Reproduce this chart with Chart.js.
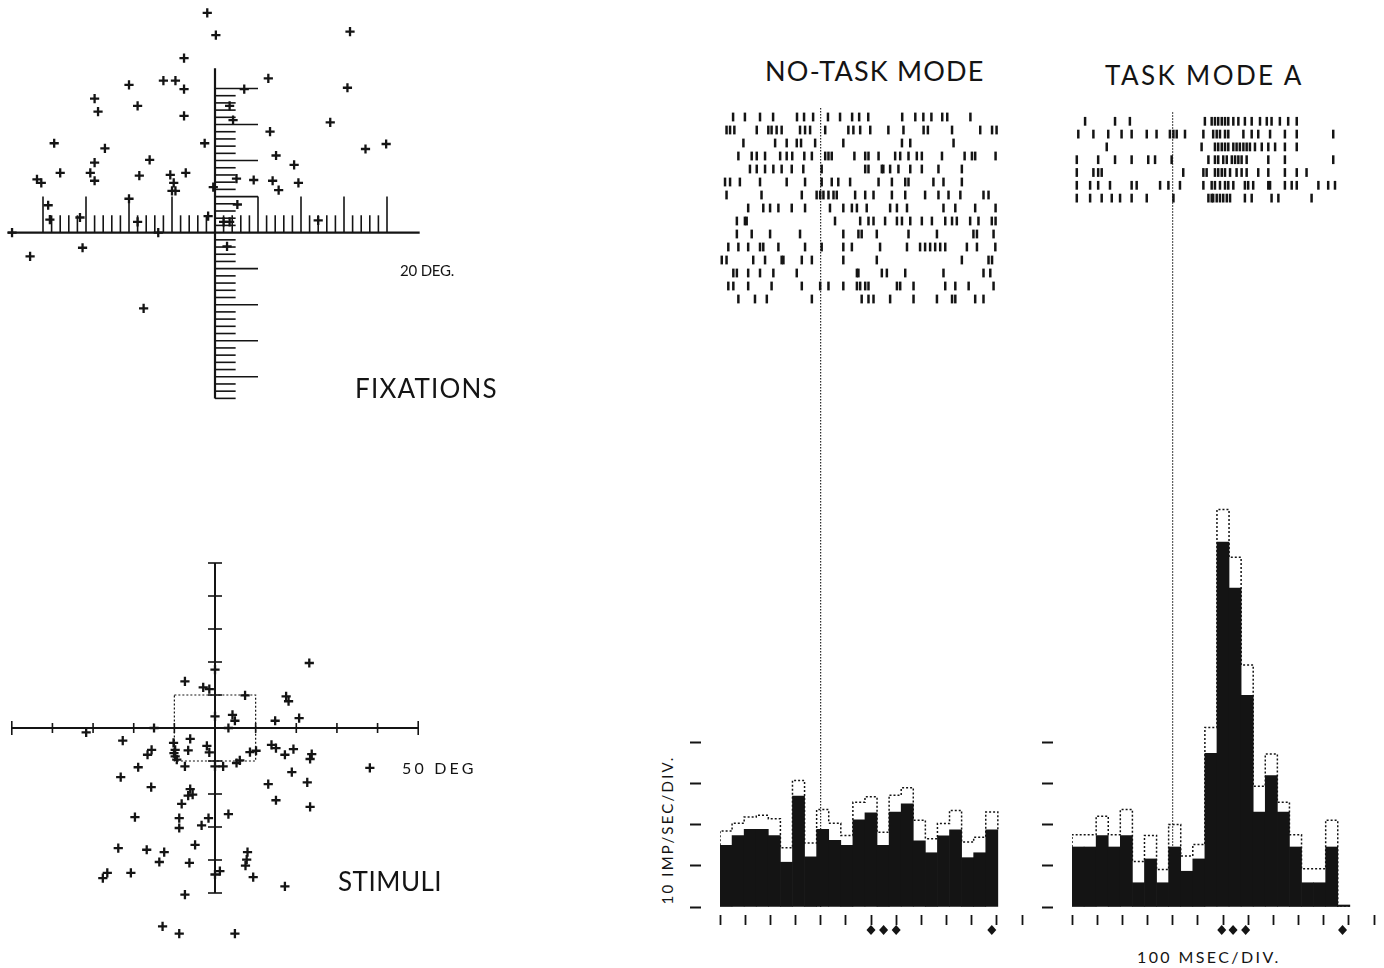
<!DOCTYPE html>
<html>
<head>
<meta charset="utf-8">
<title>Fixations, stimuli and task modes</title>
<script src="https://cdn.jsdelivr.net/npm/chart.js"></script>
<style>
    body {
        margin: 0;
        width: 1384px;
        height: 968px;
        position: relative;
        overflow: hidden;
        background: #fff;
        color: #141414;
        font-family: 'Lato', 'DejaVu Sans', sans-serif;
        font-weight: 400;
    }
    canvas { position: absolute; }
    .label {
        position: absolute;
        white-space: nowrap;
        line-height: 1;
    }
</style>
</head>
<body>
<canvas id="fixationChart" width="430" height="418" style="left:0;top:2px"></canvas>
<canvas id="stimulusChart" width="430" height="429" style="left:0;top:530px"></canvas>
<canvas id="noTaskChart" width="338" height="846" style="left:690px;top:101px"></canvas>
<canvas id="taskAChart" width="338" height="846" style="left:1042px;top:101px"></canvas>

<div class="label" style="left:765px;top:57px;font-size:27px;letter-spacing:1.2px">NO-TASK MODE</div>
<div class="label" style="left:1105px;top:62px;font-size:26px;letter-spacing:2.4px">TASK MODE A</div>
<div class="label" style="left:400px;top:263px;font-size:15px;letter-spacing:-0.2px">20 DEG.</div>
<div class="label" style="left:355px;top:375px;font-size:26px;letter-spacing:1.2px">FIXATIONS</div>
<div class="label" style="left:402px;top:760px;font-size:16px;letter-spacing:3.2px">50 DEG</div>
<div class="label" style="left:338px;top:868px;font-size:26px;letter-spacing:0.5px">STIMULI</div>
<div class="label" style="left:1137px;top:949px;font-size:16px;letter-spacing:2.4px">100 MSEC/DIV.</div>
<div class="label" style="left:667px;top:830px;font-size:15px;letter-spacing:2.2px;transform:translate(-50%,-50%) rotate(-90deg)">10 IMP/SEC/DIV.</div>

<script>
// Fixation positions, degrees (x right, y up)
const fixationX = [-0.9, 0.1, 15.7, -3.6, 6.2, -10.0, -6.0, -4.6, -3.6, 3.4, 15.4, -14.0, -13.6, -9.0, -3.6, 1.7,
    2.1, 13.4, 6.4, -18.7, -12.8, -1.2, 17.5, 19.9, 7.1, -7.6, -14.0, 9.2, -20.7, -20.2, -18.0, -14.5, -14.0, -8.8,
    -5.2, -3.4, -4.8, -4.6, -5.0, 2.5, 4.5, 6.7, 7.4, 9.7, -0.2, -19.4, -19.2, -15.7, -10.0, -9.0, -6.6, -0.8, 2.6,
    1.0, 1.7, 12.0, -23.6, -21.5, -15.4, 1.4, -8.3];
const fixationY = [30.5, 27.4, 27.9, 24.2, 21.4, 20.5, 21.1, 21.1, 19.9, 19.9, 20.1, 18.6, 16.8, 17.6, 16.2, 17.6,
    15.6, 15.3, 14.0, 12.4, 11.7, 12.4, 11.6, 12.3, 10.7, 10.1, 9.7, 9.4, 7.4, 6.9, 8.3, 8.3, 7.2, 7.9,
    8.0, 8.3, 6.9, 5.8, 5.8, 7.5, 7.3, 7.2, 5.9, 6.9, 6.3, 3.8, 1.8, 2.1, 4.7, 1.5, 0, 2.3, 3.9,
    1.5, 1.5, 1.7, 0, -3.3, -2.1, -1.9, -10.5];

// Stimulus positions, degrees
const stimulusX = [23.2, -7.4, -2.9, -1.4, 0, 7.4, 17.5, 18.1, 4.3, 4.9, 0, 14.8, 20.7, -31.7, -22.7, -6.1, -15.6,
    -16.6, -10.2, -9.8, -9.8, -6.6, -2.0, -1.4, -7.4, 0, 2.0, 5.3, 6.1, 8.6, 10.1, 13.9, 15.0, 17.2, 19.3, 23.8, 23.4,
    38.1, -18.9, -23.2, -15.7, 18.9, 13.1, 22.7, -6.1, -6.6, -5.5, -8.2, 15.0, 23.4, -19.7, -8.8, -8.8, -3.3, -1.6,
    3.3, -23.8, -16.8, -12.5, -13.7, -6.3, -4.9, 8.0, 7.8, 7.5, 9.4, 1.2, 0, -26.5, -27.6, -20.7, 17.2, -7.4, -12.9,
    -8.8, 4.9, -9.4, -10.1, -15, 3.3];
const stimulusY = [19.7, 14.1, 12.3, 11.8, 17.7, 9.9, 9.6, 8.1, 4.0, 2.2, 3.5, 2.2, 3.0, -1.3, -3.8, -3.3, -6.6,
    -8.1, -4.5, -6.6, -8.6, -6.8, -5.4, -7.4, -11.6, -11.6, -11.6, -10.6, -9.8, -7.3, -6.9, -5.1, -6.1, -8.1, -6.4,
    -7.9, -9.4, -12.1, -11.9, -14.9, -17.9, -13.4, -17.0, -16.5, -18.5, -20.5, -20.2, -23.0, -21.9, -23.9, -27.0,
    -27.3, -30.3, -29.5, -27.3, -26.1, -36.4, -36.9, -37.6, -40.6, -40.9, -35.4, -37.6, -39.9, -41.7, -45.2, -43.4,
    -44.4, -43.9, -45.5, -43.9, -48.0, -50.5, -60.1, -62.3, -62.3, -9.6, -7.6, 0, 0];

// Histogram bins: 48 ms wide, starting 400 ms before the event
const BIN_START_MS = -400;
const BIN_MS = 48;

// imp/sec per bin (solid = mean, dotted = upper outline)
const noTaskRate = [15.0, 17.4, 18.9, 18.9, 17.4, 10.9, 27.0, 12.2, 18.9, 16.2, 15.0, 21.2, 22.9, 15.0, 23.1,
    25.1, 16.1, 13.2, 17.3, 18.8, 12.0, 13.2, 18.8];
const noTaskUpper = [18.5, 20.4, 21.9, 22.3, 21.5, 14.4, 30.8, 15.6, 23.7, 20.4, 17.4, 25.5, 26.8, 18.2, 27.2,
    29.0, 21.1, 16.6, 20.3, 23.5, 15.8, 17.0, 23.1];
const taskARate = [14.6, 14.6, 17.4, 14.6, 17.4, 5.9, 11.7, 5.9, 14.6, 8.7, 11.7, 37.4, 88.8, 77.6, 51.5, 23.1,
    32.0, 23.1, 14.6, 5.9, 5.9, 14.6, 0];
const taskAUpper = [17.6, 17.6, 22.1, 17.6, 23.7, 11.1, 17.4, 9.1, 20.1, 12.4, 15.2, 43.7, 96.7, 85.1, 58.9, 29.4,
    37.2, 25.5, 17.6, 9.3, 9.3, 21.1, 0];

// Diamond markers under the time axis, ms
const noTaskMarkers = [200, 250, 300, 680];
const taskAMarkers = [195, 240, 290, 675];

// Spike times per trial, ms from the event
const noTaskRaster = [
    [-348, -301, -241, -189, -94, -66, -30, 29, 77, 125, 153, 189, 324, 376, 408, 440, 483, 503, 595],
    [-374, -360, -343, -254, -208, -195, -175, -155, -82, -62, -42, 18, 110, 130, 157, 197, 269, 329, 409, 426, 522, 634, 681, 699],
    [-307, -181, -135, -95, -78, -22, 90, 323, 356, 528],
    [-327, -274, -254, -221, -161, -135, -113, -65, -35, 18, 31, 44, 134, 177, 190, 230, 296, 316, 349, 382, 402, 482, 572, 601, 614, 695],
    [-281, -254, -221, -188, -155, -115, -69, 4, 177, 190, 243, 249, 276, 309, 356, 402, 468, 561],
    [-380, -360, -321, -241, -135, -62, 4, 44, 70, 117, 230, 283, 336, 349, 448, 488, 561],
    [-374, -235, -75, -16, -2, 11, 31, 51, 64, 137, 177, 210, 283, 336, 415, 468, 508, 555, 647, 667],
    [-288, -228, -201, -168, -115, -62, 37, 90, 124, 144, 183, 276, 303, 343, 488, 535, 614, 695],
    [-333, -301, -294, 57, 157, 190, 210, 256, 303, 323, 356, 402, 442, 495, 522, 541, 594, 627, 680, 695],
    [-333, -274, -201, -82, 90, 150, 163, 223, 349, 462, 607, 621, 687],
    [-367, -327, -288, -241, -228, -168, -62, 4, 90, 124, 236, 343, 395, 415, 435, 455, 475, 495, 581, 621, 694],
    [-393, -374, -268, -221, -155, -148, -75, -35, 90, 223, 561, 667, 681],
    [-347, -333, -288, -241, -188, -95, 144, 150, 243, 263, 336, 488, 647, 674],
    [-367, -347, -288, -195, -75, -2, 31, 90, 144, 157, 177, 190, 303, 316, 369, 495, 535, 588, 687],
    [-327, -261, -214, -35, 163, 190, 210, 276, 369, 462, 522, 535, 614, 647]
];
const taskARaster = [
    [-348, -229, -170, 128, 155, 168, 181, 195, 208, 221, 241, 261, 287, 314, 347, 374, 393, 426, 459, 493],
    [-375, -315, -256, -203, -163, -103, -64, -11, 3, 16, 49, 122, 161, 175, 188, 208, 221, 281, 314, 340, 387, 446, 493, 638],
    [-262, 115, 168, 181, 195, 208, 221, 241, 254, 267, 281, 294, 307, 327, 354, 380, 407, 446, 493],
    [-381, -296, -229, -163, -97, -70, -4, 142, 168, 181, 201, 215, 235, 248, 261, 274, 294, 380, 446, 638],
    [-381, -315, -296, -282, 42, 122, 135, 168, 181, 195, 208, 228, 254, 274, 294, 340, 380, 446, 493, 532],
    [-381, -328, -296, -249, -163, -143, -50, -17, 29, 122, 155, 168, 188, 208, 221, 241, 287, 300, 320, 380, 387, 446, 473, 493, 579, 618, 645],
    [-381, -328, -282, -242, -209, -163, -103, 3, 142, 155, 161, 175, 188, 201, 215, 228, 287, 314, 393, 420, 552]
];

const INK = '#141414';
const MARKER_LEVEL = -5.6;   // imp/sec level where the diamonds sit, below the baseline

function strokeLine(ctx, x1, y1, x2, y2) {
    ctx.beginPath();
    ctx.moveTo(x1, y1);
    ctx.lineTo(x2, y2);
    ctx.stroke();
}

// Ruled cross-hair of the fixation plot (1 deg ticks, long every 5 deg)
const fixationAxes = {
    id: 'fixationAxes',
    beforeDatasetsDraw(chart) {
        const { ctx, scales: { x, y } } = chart;
        const px = v => x.getPixelForValue(v);
        const py = v => y.getPixelForValue(v);
        ctx.save();
        ctx.strokeStyle = INK;
        ctx.lineWidth = 2.2;
        strokeLine(ctx, px(-24.1), py(0), px(23.8), py(0));
        strokeLine(ctx, px(0), py(22.8), px(0), py(-23));
        ctx.lineWidth = 1.6;
        for (let d = -20; d <= 20; d++) {
            if (d === 0) continue;
            strokeLine(ctx, px(d), py(0), px(d), py(d % 5 === 0 ? 5 : 2.4));
        }
        for (let d = -23; d <= 20; d++) {
            if (d === 0) continue;
            strokeLine(ctx, px(0), py(d), px(d % 5 === 0 ? 5 : 2.4), py(d));
        }
        ctx.restore();
    }
};

// Cross axes of the stimulus plot (10 deg ticks) and the dotted 10 deg window
const stimulusAxes = {
    id: 'stimulusAxes',
    beforeDatasetsDraw(chart) {
        const { ctx, scales: { x, y } } = chart;
        const px = v => x.getPixelForValue(v);
        const py = v => y.getPixelForValue(v);
        ctx.save();
        ctx.strokeStyle = INK;
        ctx.lineWidth = 2;
        strokeLine(ctx, px(-50), py(0), px(50), py(0));
        strokeLine(ctx, px(0), py(50), px(0), py(-50));
        ctx.lineWidth = 1.6;
        for (let d = -50; d <= 50; d += 10) {
            if (d === 0) continue;
            const h = Math.abs(d) === 50 ? 7 : 5;
            strokeLine(ctx, px(d), py(0) - h, px(d), py(0) + h);
            strokeLine(ctx, px(0) - 7, py(d), px(0) + 7, py(d));
        }
        ctx.lineWidth = 1.2;
        ctx.setLineDash([2, 2]);
        ctx.strokeRect(px(-10), py(10), px(10) - px(-10), py(-10) - py(10));
        ctx.restore();
    }
};

// Dotted onset line from the raster down to the baseline, plus the diamonds under the axis
const eventLine = {
    id: 'eventLine',
    beforeDatasetsDraw(chart) {
        const { ctx, scales: { x, y, yR } } = chart;
        const xp = x.getPixelForValue(0);
        ctx.save();
        ctx.strokeStyle = INK;
        ctx.lineWidth = 1.1;
        ctx.setLineDash([1.5, 1.5]);
        strokeLine(ctx, xp, yR.getPixelForValue(0.3), xp, y.getPixelForValue(0));
        ctx.restore();
    },
    afterDatasetsDraw(chart, args, opts) {
        const { ctx, scales: { x, y } } = chart;
        const yp = y.getPixelForValue(MARKER_LEVEL);
        ctx.save();
        ctx.fillStyle = INK;
        (opts.markers || []).forEach(t => {
            const xp = x.getPixelForValue(t);
            ctx.beginPath();
            ctx.moveTo(xp, yp - 5);
            ctx.lineTo(xp + 4.5, yp);
            ctx.lineTo(xp, yp + 5);
            ctx.lineTo(xp - 4.5, yp);
            ctx.closePath();
            ctx.fill();
        });
        ctx.restore();
    }
};

function renderScatter(canvasId, xs, ys, range, plugin) {
    new Chart(document.getElementById(canvasId), {
        type: 'scatter',
        data: {
            datasets: [{
                data: xs.map((v, i) => ({ x: v, y: ys[i] })),
                pointStyle: 'cross',
                pointRadius: 4.6,
                borderWidth: 2.3,
                borderColor: INK,
                clip: false
            }]
        },
        options: {
            responsive: false,
            animation: false,
            events: [],
            layout: { padding: 0, autoPadding: false },
            scales: {
                x: { type: 'linear', bounds: 'data', min: range.xMin, max: range.xMax, display: false },
                y: { type: 'linear', bounds: 'data', min: range.yMin, max: range.yMax, display: false }
            },
            plugins: { legend: { display: false }, tooltip: { enabled: false } }
        },
        plugins: [plugin]
    });
}

function renderModePanel(canvasId, rate, upper, raster, markers, rowRange) {
    const n = rate.length;
    const binEnd = BIN_START_MS + BIN_MS * n;

    const bars = rate.map((v, i) => ({ x: BIN_START_MS + BIN_MS * (i + 0.5), y: v }));

    // stepped dotted outline over the bars
    const outline = [{ x: BIN_START_MS, y: rate[0] }];
    upper.forEach((v, i) => outline.push({ x: BIN_START_MS + BIN_MS * i, y: v }));
    outline.push({ x: binEnd, y: upper[n - 1] });
    outline.push({ x: binEnd, y: rate[n - 1] });

    const rasterSets = raster.map((spikes, row) => ({
        type: 'scatter',
        yAxisID: 'yR',
        data: spikes.map(t => ({ x: t, y: row + 1 })),
        pointStyle: 'line',
        rotation: 90,
        pointRadius: 4.4,
        borderWidth: 2.5,
        borderColor: INK,
        clip: false,
        order: 0
    }));

    new Chart(document.getElementById(canvasId), {
        type: 'bar',
        data: {
            datasets: [
                {
                    type: 'line',
                    data: outline,
                    stepped: 'before',
                    borderColor: INK,
                    borderWidth: 1.5,
                    borderDash: [2, 2],
                    pointRadius: 0,
                    fill: false,
                    order: 1
                },
                {
                    type: 'bar',
                    data: bars,
                    backgroundColor: INK,
                    borderWidth: 0,
                    barPercentage: 1,
                    categoryPercentage: 1,
                    minBarLength: 2,
                    order: 2
                },
                ...rasterSets
            ]
        },
        options: {
            responsive: false,
            animation: false,
            events: [],
            layout: { padding: { top: 0, right: 6, bottom: 22, left: 0 }, autoPadding: false },
            scales: {
                x: {
                    type: 'linear',
                    bounds: 'data',
                    min: -400,
                    max: 800,
                    offset: false,
                    ticks: { display: false, stepSize: 100 },
                    border: { display: false },
                    grid: {
                        offset: false,
                        drawOnChartArea: false,
                        tickLength: 18,
                        tickWidth: 1.8,
                        tickColor: INK,
                        tickBorderDash: [0, 8, 10, 40]
                    }
                },
                y: {
                    bounds: 'data',
                    min: 0,
                    max: 196.1,
                    ticks: { display: false, stepSize: 10 },
                    border: { display: false },
                    grid: {
                        drawOnChartArea: false,
                        tickLength: 30,
                        tickWidth: 2,
                        tickBorderDash: [11, 40],
                        tickColor: c => (c.tick && c.tick.value <= 40 ? INK : 'rgba(0,0,0,0)')
                    }
                },
                yR: {
                    type: 'linear',
                    bounds: 'data',
                    reverse: true,
                    min: rowRange[0],
                    max: rowRange[1],
                    display: false
                }
            },
            plugins: {
                legend: { display: false },
                tooltip: { enabled: false },
                eventLine: { markers: markers }
            }
        },
        plugins: [eventLine]
    });
}

document.addEventListener('DOMContentLoaded', () => {
    renderScatter('fixationChart', fixationX, fixationY,
        { xMin: -25, xMax: 25, yMin: -26, yMax: 32 }, fixationAxes);
    renderScatter('stimulusChart', stimulusX, stimulusY,
        { xMin: -52.9, xMax: 52.9, yMin: -70, yMax: 60 }, stimulusAxes);
    renderModePanel('noTaskChart', noTaskRate, noTaskUpper, noTaskRaster, noTaskMarkers, [-0.231, 61.77]);
    renderModePanel('taskAChart', taskARate, taskAUpper, taskARaster, taskAMarkers, [-0.586, 62.38]);
});
</script>
</body>
</html>
